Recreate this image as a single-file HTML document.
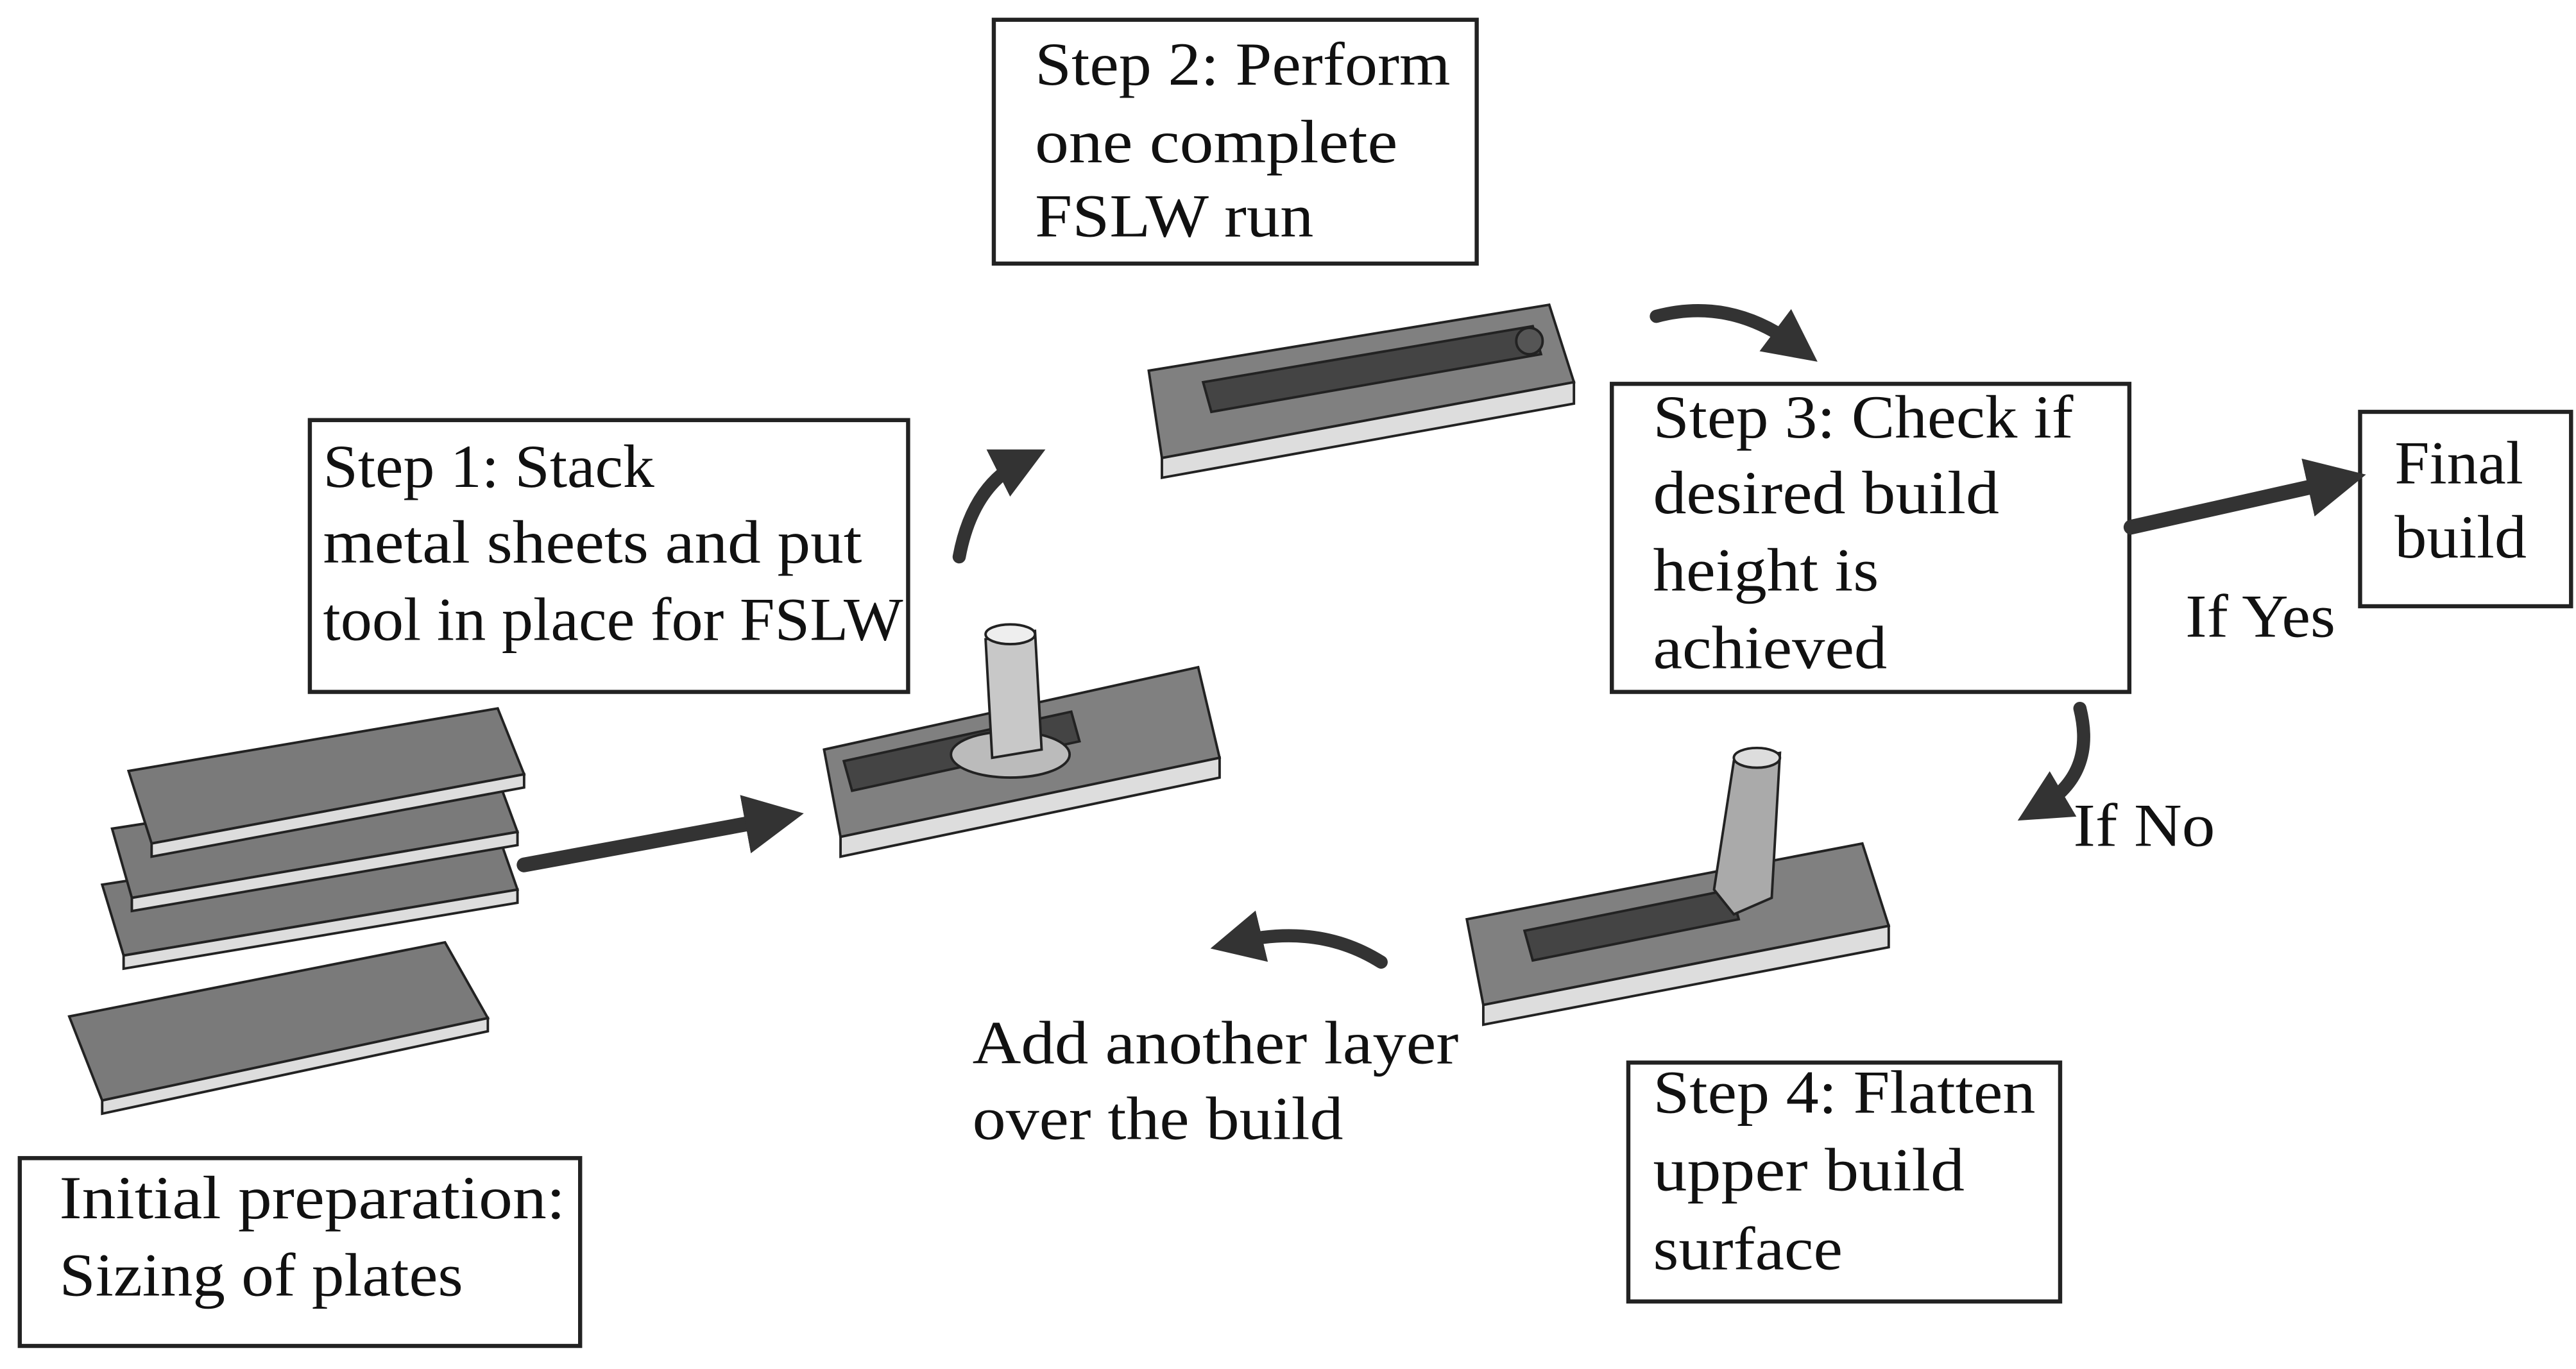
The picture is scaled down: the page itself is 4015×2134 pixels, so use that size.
<!DOCTYPE html>
<html><head><meta charset="utf-8"><style>
html,body{margin:0;padding:0;background:#fff}
svg{display:block}
text{font-family:"Liberation Serif",serif;font-size:37px;fill:#111;dominant-baseline:middle}
</style></head><body>
<svg width="4015" height="2134" viewBox="0 0 1563 831" preserveAspectRatio="none" xmlns="http://www.w3.org/2000/svg">
<defs>
<marker id="ah" markerWidth="4" markerHeight="4" refX="2" refY="2" orient="auto" markerUnits="strokeWidth"><path d="M0,0 L4,2 L0,4 z" fill="#333"/></marker>
</defs>
<rect width="1563" height="831" fill="#fff"/>
<g stroke="#222" stroke-width="2.5" fill="#fff">
<rect x="603" y="12" width="293" height="148"/>
<rect x="188" y="255" width="363" height="165"/>
<rect x="978" y="233" width="314" height="187"/>
<rect x="1432" y="250" width="128" height="118"/>
<rect x="988" y="645" width="262" height="145"/>
<rect x="12" y="703" width="340" height="114"/>
</g>
<g lengthAdjust="spacingAndGlyphs">
<text x="628" y="43" textLength="252" lengthAdjust="spacingAndGlyphs">Step 2: Perform</text>
<text x="628" y="90" textLength="220" lengthAdjust="spacingAndGlyphs">one complete</text>
<text x="628" y="135" textLength="169" lengthAdjust="spacingAndGlyphs">FSLW run</text>
<text x="196" y="287" textLength="201" lengthAdjust="spacingAndGlyphs">Step 1: Stack</text>
<text x="196" y="333" textLength="327" lengthAdjust="spacingAndGlyphs">metal sheets and put</text>
<text x="196" y="380" textLength="352" lengthAdjust="spacingAndGlyphs">tool in place for FSLW</text>
<text x="1003" y="257" textLength="255" lengthAdjust="spacingAndGlyphs">Step 3: Check if</text>
<text x="1003" y="303" textLength="210" lengthAdjust="spacingAndGlyphs">desired build</text>
<text x="1003" y="350" textLength="137" lengthAdjust="spacingAndGlyphs">height is</text>
<text x="1003" y="397" textLength="142" lengthAdjust="spacingAndGlyphs">achieved</text>
<text x="1453" y="285" textLength="78" lengthAdjust="spacingAndGlyphs">Final</text>
<text x="1453" y="330" textLength="80" lengthAdjust="spacingAndGlyphs">build</text>
<text x="1326" y="378" textLength="91" lengthAdjust="spacingAndGlyphs">If Yes</text>
<text x="1258" y="505" textLength="86" lengthAdjust="spacingAndGlyphs">If No</text>
<text x="1003" y="667" textLength="232" lengthAdjust="spacingAndGlyphs">Step 4: Flatten</text>
<text x="1003" y="714" textLength="189" lengthAdjust="spacingAndGlyphs">upper build</text>
<text x="1003" y="762" textLength="115" lengthAdjust="spacingAndGlyphs">surface</text>
<text x="590" y="637" textLength="295" lengthAdjust="spacingAndGlyphs">Add another layer</text>
<text x="590" y="683" textLength="225" lengthAdjust="spacingAndGlyphs">over the build</text>
<text x="36" y="731" textLength="307" lengthAdjust="spacingAndGlyphs">Initial preparation:</text>
<text x="36" y="778" textLength="245" lengthAdjust="spacingAndGlyphs">Sizing of plates</text>
</g>
<g stroke="#222" stroke-width="1.5">
<path d="M42,617 L270,572 L296,618 L62,668 Z" fill="#7a7a7a"/><path d="M62,668 L296,618 L296,626 L62,676 Z" fill="#ddd"/>
<path d="M62,537 L300,500 L314,540 L75,580 Z" fill="#7a7a7a"/><path d="M75,580 L314,540 L314,548 L75,588 Z" fill="#ddd"/>
<path d="M68,503 L300,467 L314,505 L80,545 Z" fill="#7a7a7a"/><path d="M80,545 L314,505 L314,513 L80,553 Z" fill="#ddd"/>
<path d="M78,468 L302,430 L318,470 L92,512 Z" fill="#7a7a7a"/><path d="M92,512 L318,470 L318,478 L92,520 Z" fill="#ddd"/>
<path d="M500,455 L727,405 L740,460 L510,508 Z" fill="#808080"/><path d="M510,508 L740,460 L740,472 L510,520 Z" fill="#ddd"/>
<path d="M512,462 L650,432 L655,450 L517,480 Z" fill="#444"/>
<ellipse cx="613" cy="458" rx="36" ry="14" fill="#bbb"/>
<path d="M598,388 L628,383 L632,455 L602,460 Z" fill="#c8c8c8"/><ellipse cx="613" cy="385" rx="15" ry="6" fill="#eee"/>
<path d="M697,225 L940,185 L955,232 L705,278 Z" fill="#808080"/><path d="M705,278 L955,232 L955,245 L705,290 Z" fill="#ddd"/>
<path d="M730,232 L930,198 L935,215 L735,250 Z" fill="#444"/>
<circle cx="928" cy="207" r="8" fill="#555"/>
<path d="M890,558 L1130,512 L1146,562 L900,610 Z" fill="#808080"/><path d="M900,610 L1146,562 L1146,575 L900,622 Z" fill="#ddd"/>
<path d="M925,565 L1050,540 L1055,558 L930,583 Z" fill="#444"/>
<path d="M1052,462 L1080,457 L1075,545 L1052,555 L1040,540 Z" fill="#aaa"/><ellipse cx="1066" cy="460" rx="14" ry="6" fill="#ddd"/>
</g>
<g stroke="#333" fill="none" stroke-linecap="round">
<line x1="318" y1="525" x2="470" y2="497" stroke-width="9" marker-end="url(#ah)"/>
<line x1="1293" y1="320" x2="1418" y2="292" stroke-width="9" marker-end="url(#ah)"/>
<path d="M582,338 Q590,295 620,280" stroke-width="8" marker-end="url(#ah)"/>
<path d="M1005,192 Q1050,180 1090,210" stroke-width="8" marker-end="url(#ah)"/>
<path d="M1262,430 Q1272,470 1238,490" stroke-width="8" marker-end="url(#ah)"/>
<path d="M838,584 Q800,560 750,572" stroke-width="8" marker-end="url(#ah)"/>
</g>
</svg>
</body></html>
